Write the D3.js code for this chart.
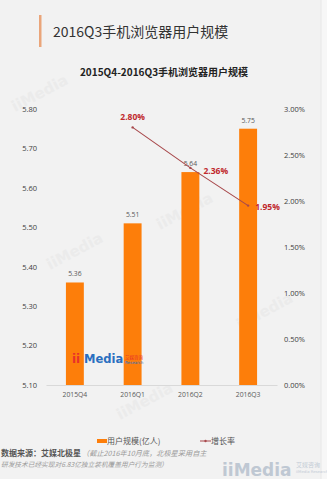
<!DOCTYPE html>
<html><head><meta charset="utf-8">
<script src="https://cdn.jsdelivr.net/npm/d3@7/dist/d3.min.js"></script>
<style>
html,body{margin:0;padding:0;background:#f2f2f2;overflow:hidden;}
svg{display:block;font-family:"Noto Sans CJK SC","Open Sans",sans-serif;}
</style></head>
<body>
<svg id="c" width="327" height="479"></svg>
<script>
const categories = ["2015Q4","2016Q1","2016Q2","2016Q3"];
const users = [5.36, 5.51, 5.64, 5.75];
const growth = [null, 2.80, 2.36, 1.95];
const leftTicks = [5.10,5.20,5.30,5.40,5.50,5.60,5.70,5.80];
const rightTicks = [0,0.5,1.0,1.5,2.0,2.5,3.0];
const title = "2016Q3手机浏览器用户规模";
const subtitle = "2015Q4-2016Q3手机浏览器用户规模";
const legendLabels = ["用户规模(亿人)","增长率"];
const sourceBold = "数据来源：艾媒北极星";
const sourceNote1 = "（截止2016年10月底，北极星采用自主";
const sourceNote2 = "研发技术已经实现对6.83亿独立装机覆盖用户行为监测）";

const svg = d3.select("#c");
const W = 327, H = 479;
svg.append("rect").attr("width",W).attr("height",H).attr("fill","#f2f2f2");
svg.append("rect").attr("x",321).attr("width",6).attr("height",H).attr("fill","#f7f7f7");
svg.append("line").attr("x1",321).attr("x2",321).attr("y1",0).attr("y2",H).attr("stroke","#e8e8e8");

// watermarks
const wm = [[15,112],[50,270],[160,230],[240,330],[120,420]];
wm.forEach(([x,y])=>{
  svg.append("text").attr("transform",`translate(${x},${y}) rotate(-28)`)
    .attr("font-size",15).attr("font-weight","bold").attr("fill","#ebebeb")
    .attr("font-family","Verdana, DejaVu Sans, sans-serif").text("iiMedia");
});

// title
svg.append("rect").attr("x",39).attr("y",15).attr("width",2.5).attr("height",32).attr("fill","#eaa57a");
svg.append("text").attr("x",53).attr("y",37).attr("font-size",14).attr("fill","#333").text(title);
svg.append("text").attr("x",164).attr("y",76).attr("text-anchor","middle").attr("font-size",10)
  .attr("font-weight","bold").attr("fill","#222").text(subtitle);

const x = d3.scaleBand().domain(categories).range([46,277]).paddingInner(0.69).paddingOuter(0.345);
const yL = d3.scaleLinear().domain([5.10,5.80]).range([385,109]);
const yR = d3.scaleLinear().domain([0,3.0]).range([385,109]);

// axes
const gL = svg.append("g").attr("transform","translate(37,0)")
  .call(d3.axisLeft(yL).tickValues(leftTicks).tickFormat(d3.format(".2f")).tickSize(0).tickPadding(0));
const gR = svg.append("g").attr("transform","translate(284,0)")
  .call(d3.axisRight(yR).tickValues(rightTicks).tickFormat(d=>d.toFixed(2)+"%").tickSize(0).tickPadding(0));
[gL,gR].forEach(g=>{
  g.select(".domain").remove();
  g.selectAll("text").attr("font-size",7.5).attr("fill","#404040").attr("font-family","Open Sans, Noto Sans CJK SC, sans-serif");
});
const gX = svg.append("g").attr("transform","translate(0,385)")
  .call(d3.axisBottom(x).tickSize(0).tickPadding(7));
gX.select(".domain").attr("stroke","#d9d9d9");
gX.selectAll("text").attr("font-size",6.8).attr("fill","#595959").attr("font-family","Open Sans, Noto Sans CJK SC, sans-serif");

// bars
svg.append("g").selectAll("rect").data(users).join("rect")
  .attr("x",(d,i)=>x(categories[i])).attr("width",x.bandwidth())
  .attr("y",d=>yL(d)).attr("height",d=>yL(5.10)-yL(d)).attr("fill","#fd7e0a");
svg.append("g").selectAll("text").data(users).join("text")
  .attr("x",(d,i)=>x(categories[i])+x.bandwidth()/2).attr("y",d=>yL(d)-6)
  .attr("text-anchor","middle").attr("font-size",6.8).attr("fill","#595959")
  .attr("font-family","Open Sans, sans-serif").text(d=>d.toFixed(2));

// inner logo
const lg = svg.append("g").attr("transform","translate(72,363)");
lg.append("text").attr("font-size",12).attr("font-weight","bold").attr("fill","#e8322a")
  .attr("font-family","Verdana, DejaVu Sans, sans-serif").text("ii");
lg.append("text").attr("x",12).attr("font-size",11.5).attr("font-weight","bold").attr("fill","#2a6fc0")
  .attr("font-family","Verdana, DejaVu Sans, sans-serif").text("Media");
lg.append("text").attr("x",53).attr("y",-4).attr("font-size",4.5).attr("fill","#e8322a").text("艾媒咨询");
lg.append("text").attr("x",53).attr("y",1).attr("font-size",4).attr("fill","#2a6fc0").attr("font-family","DejaVu Sans").text("Research");

// line
const pts = growth.map((g,i)=>({g,i})).filter(p=>p.g!=null);
const cx = i => x(categories[i]) + x.bandwidth()/2;
const line = d3.line().x(p=>cx(p.i)).y(p=>yR(p.g));
svg.append("path").datum(pts).attr("d",line).attr("fill","none").attr("stroke","#a8494c").attr("stroke-width",1.1);
svg.append("g").selectAll("circle").data(pts).join("circle")
  .attr("cx",p=>cx(p.i)).attr("cy",p=>yR(p.g)).attr("r",1.2).attr("fill","#a8494c");
const lblOff = {1:[0,-7,"middle"],2:[13,6,"start"],3:[7,4,"start"]};
svg.append("g").selectAll("text").data(pts).join("text")
  .attr("x",p=>cx(p.i)+lblOff[p.i][0]).attr("y",p=>yR(p.g)+lblOff[p.i][1])
  .attr("text-anchor",p=>lblOff[p.i][2]).attr("font-size",8.5).attr("font-weight","bold")
  .attr("fill","#c0282d").attr("font-family","Open Sans, sans-serif").text(p=>p.g.toFixed(2)+"%");

// legend
svg.append("rect").attr("x",97).attr("y",439).attr("width",10).attr("height",4).attr("fill","#fd7e0a");
svg.append("text").attr("x",107).attr("y",444).attr("font-size",8).attr("fill","#555").text(legendLabels[0]);
svg.append("line").attr("x1",200).attr("x2",211).attr("y1",441).attr("y2",441).attr("stroke","#a8494c").attr("stroke-width",1);
svg.append("circle").attr("cx",205.5).attr("cy",441).attr("r",1.2).attr("fill","#a8494c");
svg.append("text").attr("x",211).attr("y",444).attr("font-size",8).attr("fill","#555").text(legendLabels[1]);

// source
svg.append("text").attr("x",1).attr("y",456).attr("font-size",8)
  .attr("font-weight","bold").attr("fill","#555").text(sourceBold);
svg.append("text").attr("x",82).attr("y",456).attr("font-size",7.2).attr("font-style","italic")
  .attr("fill","#9a9a9a").text(sourceNote1);
svg.append("text").attr("x",1).attr("y",467).attr("font-size",6.7).attr("font-style","italic")
  .attr("fill","#9a9a9a").text(sourceNote2);

// bottom logo
const bl = svg.append("g").attr("transform","translate(222,476)");
bl.append("text").attr("font-size",17).attr("font-weight","bold").attr("fill","#bfc8d3")
  .attr("font-family","Verdana, DejaVu Sans, sans-serif").text("iiMedia");
bl.append("text").attr("x",74).attr("y",-9).attr("font-size",6).attr("fill","#c4ccd6").text("艾媒咨询");
bl.append("text").attr("x",74).attr("y",-3).attr("font-size",3.8).attr("fill","#c4ccd6").attr("font-family","DejaVu Sans").text("iiMedia Research");
</script>
</body></html>
